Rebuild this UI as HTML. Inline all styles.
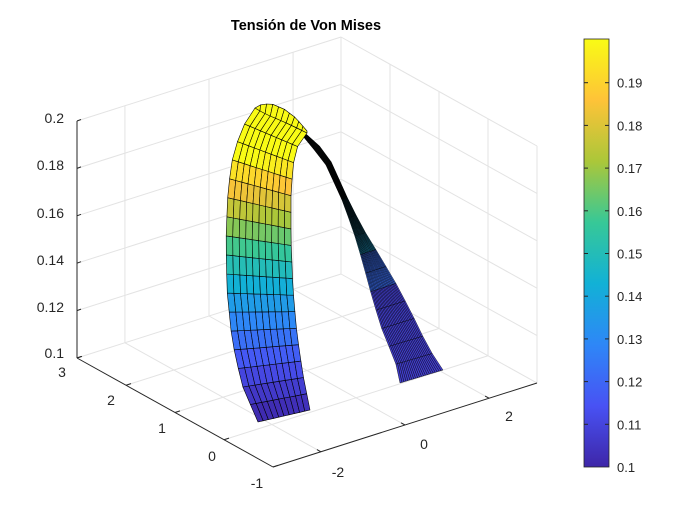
<!DOCTYPE html>
<html><head><meta charset="utf-8"><style>
html,body{margin:0;padding:0;background:#fff;}
svg{display:block;font-family:"Liberation Sans",Arial,sans-serif;}
</style></head><body>
<svg id="s" width="700" height="525" viewBox="0 0 700 525" xmlns="http://www.w3.org/2000/svg">
<defs>
<linearGradient id="cb" x1="0" y1="1" x2="0" y2="0">
<stop offset="0" stop-color="rgb(62,38,168)"/>
<stop offset="0.1429" stop-color="rgb(72,82,244)"/>
<stop offset="0.2857" stop-color="rgb(46,135,247)"/>
<stop offset="0.4286" stop-color="rgb(18,177,214)"/>
<stop offset="0.5714" stop-color="rgb(55,200,151)"/>
<stop offset="0.7143" stop-color="rgb(171,199,57)"/>
<stop offset="0.8571" stop-color="rgb(254,195,56)"/>
<stop offset="1" stop-color="rgb(249,251,21)"/>
</linearGradient>
</defs>
<rect width="700" height="525" fill="#fff"/>
<text x="306" y="30" text-anchor="middle" font-size="14.5" font-weight="bold" fill="#000">Tensión de Von Mises</text>
<g id="grid" stroke="#e3e3e3" stroke-width="1" fill="none"></g>
<g id="axes" stroke="#262626" stroke-width="1" fill="none"></g>
<g id="surf" stroke="#000" stroke-width="0.6" stroke-linejoin="round"></g>
<g id="labels" font-size="14" fill="#262626"></g>
<rect x="584" y="39" width="25" height="428" fill="url(#cb)" stroke="#262626" stroke-width="0.8"/>
<g id="cbl" font-size="13" fill="#262626"></g>
</svg>
<script>
var NS="http://www.w3.org/2000/svg";
function el(p,t,a,txt){var e=document.createElementNS(NS,t);for(var k in a)e.setAttribute(k,a[k]);if(txt!==undefined)e.textContent=txt;p.appendChild(e);return e;}
var F=[273,467],EX=[264,-84],EY=[-196,-109],H=237;
var X0=-3.14,X1=3.14;
function P(x,y,z){var a=(x-X0)/(X1-X0),b=(y+1)/4,c=(z-0.1)/0.1;return [F[0]+a*EX[0]+b*EY[0],F[1]+a*EX[1]+b*EY[1]-c*H];}
var g=document.getElementById('grid');
function ln(p,a,b){el(p,'line',{x1:a[0],y1:a[1],x2:b[0],y2:b[1]});}
[-2,0,2].forEach(function(x){ln(g,P(x,-1,0.1),P(x,3,0.1));ln(g,P(x,3,0.1),P(x,3,0.2));});
[0,1,2].forEach(function(y){ln(g,P(X0,y,0.1),P(X1,y,0.1));ln(g,P(X1,y,0.1),P(X1,y,0.2));});
ln(g,P(X1,3,0.1),P(X1,3,0.2));ln(g,P(X1,-1,0.1),P(X1,-1,0.2));
[0.12,0.14,0.16,0.18,0.2].forEach(function(z){ln(g,P(X0,3,z),P(X1,3,z));ln(g,P(X1,3,z),P(X1,-1,z));});
ln(g,P(X0,3,0.1),P(X1,3,0.1));ln(g,P(X1,3,0.1),P(X1,-1,0.1));
var ax=document.getElementById('axes');
ln(ax,P(X0,3,0.1),P(X0,3,0.2));ln(ax,P(X0,3,0.1),P(X0,-1,0.1));ln(ax,P(X0,-1,0.1),P(X1,-1,0.1));
[0.1,0.12,0.14,0.16,0.18,0.2].forEach(function(z){var p=P(X0,3,z);ln(ax,p,[p[0]+4,p[1]-1.5]);});
[-1,0,1,2,3].forEach(function(y){var p=P(X0,y,0.1);ln(ax,p,[p[0]+5,p[1]-1.6]);});
[-2,0,2].forEach(function(x){var p=P(x,-1,0.1);ln(ax,p,[p[0]-4,p[1]-2.2]);});
var L=document.getElementById('labels');
[["0.2",123],["0.18",170],["0.16",218],["0.14",265],["0.12",312],["0.1",358]].forEach(function(a){el(L,'text',{x:64,y:a[1],'text-anchor':'end'},a[0]);});
[["3",62,377],["2",111,405],["1",162,433],["0",212,461],["-1",257,488]].forEach(function(a){el(L,'text',{x:a[1],y:a[2],'text-anchor':'middle'},a[0]);});
[["-2",338,477],["0",424,449],["2",509,421]].forEach(function(a){el(L,'text',{x:a[1],y:a[2],'text-anchor':'middle'},a[0]);});
var C=document.getElementById('cbl');
for(var i=0;i<10;i++){var v=0.1+i*0.01;var y=467-i*42.7;el(C,'text',{x:617,y:y+5},i==0?"0.1":v.toFixed(2));if(i>0){el(C,'line',{x1:584,y1:y,x2:588,y2:y,stroke:'#262626'});el(C,'line',{x1:609,y1:y,x2:605,y2:y,stroke:'#262626'});}}
var PAR=[[62,38,168],[72,82,244],[46,135,247],[18,177,214],[55,200,151],[171,199,57],[254,195,56],[249,251,21]];
function colv(t,k){t=Math.max(0,Math.min(1,t));k=k||1;var s=t*7,i=Math.min(6,Math.floor(s)),f=s-i,a=PAR[i],b=PAR[i+1];return 'rgb('+[0,1,2].map(function(j){return Math.round((a[j]+(b[j]-a[j])*f)*k);}).join(',')+')';}
function tY(y){var u=Math.max(0,(423-y)/266);return Math.pow(u,1.3);}
function samp(pts,v){var d=[0];for(var i=1;i<pts.length;i++)d.push(d[i-1]+Math.hypot(pts[i][0]-pts[i-1][0],pts[i][1]-pts[i-1][1]));var T=v*d[d.length-1];for(var i=1;i<pts.length;i++){if(T<=d[i]||i==pts.length-1){var f=(T-d[i-1])/(d[i]-d[i-1]||1);f=Math.max(0,Math.min(1,f));return [pts[i-1][0]+(pts[i][0]-pts[i-1][0])*f,pts[i-1][1]+(pts[i][1]-pts[i-1][1])*f];}}}
var S=document.getElementById('surf');
function strip(A,B,nr,nc,cf,sw){
 for(var r=0;r<nr;r++){var v0=r/nr,v1=(r+1)/nr;
  var a0=samp(A,v0),a1=samp(A,v1),b0=samp(B,v0),b1=samp(B,v1);
  for(var c=0;c<nc;c++){var u0=c/nc,u1=(c+1)/nc;
   function m(a,b,u){return [a[0]+(b[0]-a[0])*u,a[1]+(b[1]-a[1])*u];}
   var q=[m(a0,b0,u0),m(a0,b0,u1),m(a1,b1,u1),m(a1,b1,u0)];
   var cy=(q[0][1]+q[1][1]+q[2][1]+q[3][1])/4;
   var at={points:q.map(function(p){return p[0].toFixed(1)+','+p[1].toFixed(1);}).join(' '),fill:cf(cy,(v0+v1)/2)};
   if(sw)at['stroke-width']=sw;
   el(S,'polygon',at);
  }}
}
// right leg
var RA=[[305,133],[315,140],[332,163],[345,193],[362,227],[378,253],[398,287],[415,320],[428,347],[443,370]];
var RB=[[302,135],[325,163],[342,200],[353,230],[362,260],[372,297],[383,333],[395,360],[400,383]];
strip(RA,RB,14,22,function(y,v){
  if(y<205) return 'rgb(25,35,40)';
  if(y<250) return colv(0.4,0.6+(y-205)/45*0.25);
  if(y<290) return colv(0.22,0.85);
  return colv(0.08,0.95);
},0.4);
// left leg
var LL=[[258,422],[242,385],[232,340],[227,290],[226,240],[228,190],[233,155],[242,128],[255,108]];
var LR=[[310,410],[303,375],[297,335],[293,290],[291,240],[291,195],[293,165],[298,145],[307,133]];
strip(LL,LR,17,10,function(y,v){return colv(tY(y));});
// top cap
var TA=[[255,108],[262,104],[272,104],[284,109],[296,118],[307,131]];
var TB=[[255,108],[260,111],[270,116],[282,121],[295,127],[307,133]];
(function(){var n=10;for(var c=0;c<n;c++){var a0=samp(TA,c/n),a1=samp(TA,(c+1)/n),b0=samp(TB,c/n),b1=samp(TB,(c+1)/n);
 el(S,'polygon',{points:[a0,a1,b1,b0].map(function(p){return p[0].toFixed(1)+','+p[1].toFixed(1);}).join(' '),fill:colv(1)});}})();
</script>
</body></html>
